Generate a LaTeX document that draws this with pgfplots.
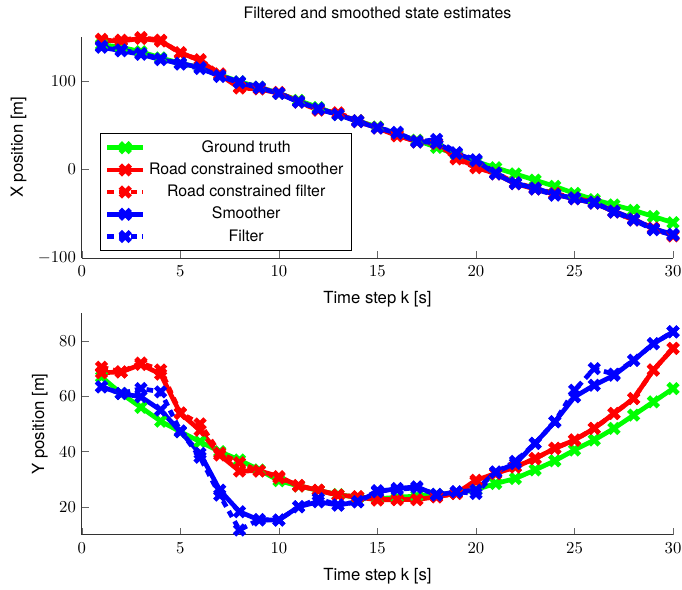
\documentclass[border=0pt]{standalone}
\usepackage{fontspec}
\setmainfont{TeX Gyre Heros}
\usepackage{pgfplots}
\pgfplotsset{compat=1.18}
\usepackage{pgfplotstable}

\pgfplotstableread{
k gt rs rf bs bf
1 141 146 147 138 139
2 138 145 146 134 135
3 133 148 149 130 131
4 126 145 146 124 125
5 120 132 131 120 119
6 115 123 124 115 114
7 107 107 108 105 106
8 99 92 93 98 99
9 93 91 92 92 93
10 86 86 87 86 86
11 78 77 76 76 77
12 70 68 67 69 68
13 62 63 64 62 62
14 55 54 55 54 55
15 48 47 47 47 47
16 40 38 39 41 42
17 33 32 31 32 31
18 25 30 29 30 34
19 17 13 12 18 19
20 9 3 2 10 11
21 2 -5 -4 -5 -4
22 -5 -16 -15 -16 -15
23 -12 -22 -21 -21 -22
24 -19 -28 -27 -28 -29
25 -27 -33 -32 -33 -32
26 -34 -38 -37 -38 -37
27 -40 -47 -48 -47 -48
28 -46 -56 -57 -56 -57
29 -53 -67 -66 -67 -68
30 -60 -74 -75 -73 -74
}\xdata

\pgfplotstableread{
k gt rs rf bs bf
1 67 68.5 70.5 63.4 63.4
2 61 68.8 68.8 61 61
3 56 71.5 72 59.8 62.8
4 51 68 69.5 55 61.6
5 47.2 53.8 54 47.2 47.5
6 43.6 47.7 50 39.4 38
7 40 38.8 39.5 26.1 24.3
8 37 33 36 18.3 11.7
9 33.4 33.1 33 15.3 15.5
10 29.5 31 30.5 15.3 15.3
11 27.6 27.6 27.8 20.1 20.1
12 26 26.1 26 21.9 23
13 24.5 24.3 24.3 20.7 20.7
14 23.5 23.7 23.7 21.9 21.9
15 23 22.5 22.8 25.5 25.9
16 23.5 22.7 22.7 26.7 26.3
17 24 22.7 22.7 27.3 27
18 24.5 23.7 23.7 24.3 24.6
19 25 24.9 24.9 25.5 25.5
20 26.3 29.7 29.2 26.1 24.9
21 28.5 32.1 32.1 32.7 32.5
22 30.3 34.5 34.5 35.7 36.5
23 33.4 37.5 37.5 43 43
24 36.7 41.2 41.2 50.8 50.8
25 40.6 44.2 44.2 59.8 62.2
26 44.2 48.4 48.4 64 70
27 48.4 53.8 53.8 67.6 68
28 53.2 59.2 59.2 73 73
29 58 69.5 69.5 79 79
30 62.8 77.3 77.3 83.3 83.3
}\ydata

\pgfplotsset{
  mystyle/.style={
    scale only axis,
    width=354pt, height=132.6pt,
    xmin=0, xmax=30,
    xtick={0,5,...,30},
    axis lines*=left,
    tick align=inside,
    axis line style={black!80},
    major tick style={black!60},
    xlabel={Time step k [s]},
    xlabel style={yshift=-2pt},
    xticklabel style={yshift=-1pt},
    label style={font=\fontsize{10}{12}\selectfont},
    tick label style={font=\fontsize{10}{12}\selectfont},
  },
  s/.style={line width=2.8pt, mark=x, mark size=4.2pt, mark options={solid, line width=2.8pt}},
  f/.style={line width=2.8pt, mark=x, mark size=4.2pt, dash pattern=on 4pt off 3pt, mark options={solid, line width=2.8pt}},
}
\definecolor{cg}{RGB}{0,255,0}
\definecolor{cr}{RGB}{255,0,0}
\definecolor{cb}{RGB}{0,0,255}

\begin{document}
\begin{tikzpicture}
\begin{axis}[mystyle,
  ymin=-100, ymax=150,
  ytick={-100,0,100},
  ylabel={X position [m]},
  title={Filtered and smoothed state estimates},
  title style={font=\fontsize{9.5}{11.4}\selectfont, yshift=1pt},
  legend cell align=center,
  legend style={at={(0.03,0.034)}, anchor=south west, draw=black, fill=white,
    font=\fontsize{9.5}{11.4}\selectfont, inner xsep=3pt, row sep=0.8pt},
  legend image code/.code={\draw[mark repeat=2,mark phase=2,#1] plot coordinates {(0cm,0cm) (0.38cm,0cm) (0.76cm,0cm)};},
]
\addplot[s, color=cg] table[x=k, y=gt] {\xdata};
\addlegendentry{Ground truth}
\addplot[s, color=cr] table[x=k, y=rs] {\xdata};
\addlegendentry{Road constrained smoother}
\addplot[f, color=cr] table[x=k, y=rf] {\xdata};
\addlegendentry{Road constrained filter}
\addplot[s, color=cb] table[x=k, y=bs] {\xdata};
\addlegendentry{Smoother}
\addplot[f, color=cb] table[x=k, y=bf] {\xdata};
\addlegendentry{Filter}
\end{axis}
\begin{axis}[mystyle, at={(0,-165.6pt)},
  ymin=10, ymax=90,
  ytick={20,40,60,80},
  ylabel={Y position [m]},
]
\addplot[s, color=cg] table[x=k, y=gt] {\ydata};
\addplot[s, color=cr] table[x=k, y=rs] {\ydata};
\addplot[f, color=cr] table[x=k, y=rf] {\ydata};
\addplot[s, color=cb] table[x=k, y=bs] {\ydata};
\addplot[f, color=cb] table[x=k, y=bf] {\ydata};
\end{axis}
\coordinate (sw) at (current bounding box.south west);
\coordinate (ne) at (current bounding box.north east);
\pgfresetboundingbox
\path ([shift={(-3pt,0pt)}]sw) ([shift={(-3pt,1pt)}]ne);
\end{tikzpicture}
\end{document}
